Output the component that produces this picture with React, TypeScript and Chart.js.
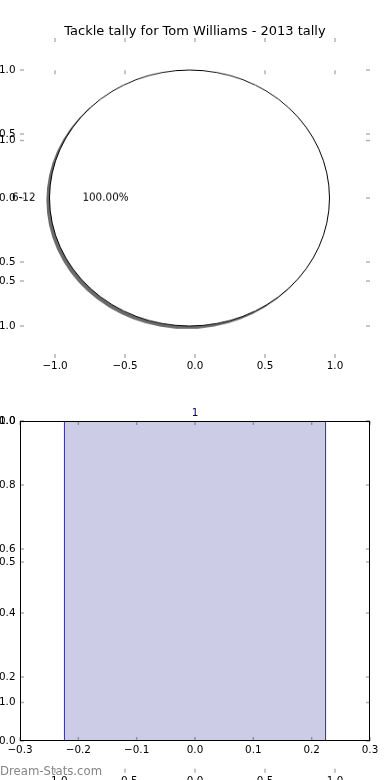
import React, { useEffect, useRef } from "react";
import { Chart, registerables } from "chart.js";

Chart.register(...registerables);
Chart.defaults.font.family = "'DejaVu Sans', 'Liberation Sans', sans-serif";
Chart.defaults.color = "#000";

// Tackles per age band
const categories = ["6-12"];
const tallies = [1];
const barCenters = [0];
const BAR_WIDTH = 0.45;

const TITLE = "Tackle tally for Tom Williams - 2013 tally";
const WATERMARK = "Dream-Stats.com";

// Tick values for each set of axes
const pieTicks = [-1.0, -0.5, 0.0, 0.5, 1.0];
const overlayTicks = [-1.0, -0.5, 0.0, 0.5, 1.0];
const barXTicks = [-0.3, -0.2, -0.1, 0.0, 0.1, 0.2, 0.3];
const barYTicks = [0.0, 0.2, 0.4, 0.6, 0.8, 1.0];

const AXIS_LIMIT = 1.25;
const BAR_X_LIMITS = [-0.3, 0.3];
const BAR_Y_LIMITS = [0, 1];

const TICK_FONT = 10.4;
const TICK_MARK = 4;
const TICK_MARK_COLOR = "rgba(0,0,0,0.3)";

// Pie canvas is drawn square and squeezed vertically by CSS
const PIE_W = 390;
const PIE_ATTR_H = 350;
const PIE_CSS_H = 320;
const PIE_RADIUS_PX = 350 / (2 * AXIS_LIMIT); // one data unit

const fmt = (v: number) => (v < -1e-9 ? "\u2212" : "") + Math.abs(v).toFixed(1);

function linearAxis(min: number, max: number, values: number[], thickness: number, padding: number) {
  return {
    type: "linear",
    min,
    max,
    offset: false,
    bounds: "data",
    grid: { display: false, drawTicks: false, offset: false },
    border: { display: false },
    ticks: {
      autoSkip: false,
      maxRotation: 0,
      minRotation: 0,
      padding,
      font: { size: TICK_FONT },
      color: "#000",
      callback: (v: any) => fmt(Number(v)),
    },
    afterBuildTicks: (scale: any) => {
      scale.ticks = values.map((value) => ({ value }));
    },
    afterFit: (scale: any) => {
      if (scale.isHorizontal()) scale.height = thickness;
      else scale.width = thickness;
      scale.paddingLeft = 0;
      scale.paddingRight = 0;
      scale.paddingTop = 0;
      scale.paddingBottom = 0;
    },
  };
}

// Inward tick marks on all four sides, optional black frame
function axesDecor(id: string, frame: boolean) {
  return {
    id,
    afterDatasetsDraw(chart: any) {
      const { ctx, chartArea: a } = chart;
      ctx.save();
      ctx.strokeStyle = TICK_MARK_COLOR;
      ctx.lineWidth = 1.5;
      Object.values(chart.scales).forEach((s: any) => {
        s.ticks.forEach((_: any, i: number) => {
          const p = s.getPixelForTick(i);
          ctx.beginPath();
          if (s.isHorizontal()) {
            ctx.moveTo(p, a.bottom);
            ctx.lineTo(p, a.bottom - TICK_MARK);
            ctx.moveTo(p, a.top);
            ctx.lineTo(p, a.top + TICK_MARK);
          } else {
            ctx.moveTo(a.left, p);
            ctx.lineTo(a.left + TICK_MARK, p);
            ctx.moveTo(a.right, p);
            ctx.lineTo(a.right - TICK_MARK, p);
          }
          ctx.stroke();
        });
      });
      if (frame) {
        ctx.strokeStyle = "#000";
        ctx.lineWidth = 1;
        const l = Math.round(a.left) + 0.5;
        const t = Math.round(a.top) + 0.5;
        const r = Math.round(a.right) - 0.5;
        const b = Math.round(a.bottom) - 0.5;
        ctx.strokeRect(l, t, r - l, b - t);
      }
      ctx.restore();
    },
  };
}

const baseOptions = {
  animation: false,
  responsive: false,
  devicePixelRatio: 1,
  events: [],
};

function makeOverlay(canvas: HTMLCanvasElement) {
  return new Chart(canvas, {
    type: "scatter",
    data: { datasets: [] },
    options: {
      ...baseOptions,
      layout: { autoPadding: false, padding: { left: 0, top: 70.25, right: 20, bottom: 0 } },
      plugins: { legend: { display: false }, tooltip: { enabled: false } },
      scales: {
        x: linearAxis(-AXIS_LIMIT, AXIS_LIMIT, overlayTicks, 7.25, 2),
        y: linearAxis(-AXIS_LIMIT, AXIS_LIMIT, overlayTicks, 20, 4.5),
      },
    } as any,
    plugins: [
      axesDecor("overlayDecor", false),
      {
        id: "watermark",
        afterDraw(chart: any) {
          const { ctx } = chart;
          ctx.save();
          ctx.font = "11.7px 'DejaVu Sans', sans-serif";
          ctx.fillStyle = "#858585";
          ctx.textAlign = "left";
          ctx.textBaseline = "alphabetic";
          ctx.fillText(WATERMARK, 0, 775);
          ctx.restore();
        },
      },
    ],
  });
}

function makePieAxes(canvas: HTMLCanvasElement) {
  return new Chart(canvas, {
    type: "scatter",
    data: { datasets: [] },
    options: {
      ...baseOptions,
      layout: { autoPadding: false, padding: { left: 0, top: 38, right: 20, bottom: 0 } },
      plugins: { legend: { display: false }, tooltip: { enabled: false } },
      scales: {
        x: linearAxis(-AXIS_LIMIT, AXIS_LIMIT, pieTicks, 22, 2),
        y: linearAxis(-AXIS_LIMIT, AXIS_LIMIT, pieTicks, 20, 4.5),
      },
    } as any,
    plugins: [
      axesDecor("pieAxesDecor", false),
      {
        // figure title, centred on the figure width
        id: "figureTitle",
        afterDraw(chart: any) {
          const { ctx, width } = chart;
          ctx.save();
          ctx.font = "13px 'DejaVu Sans', sans-serif";
          ctx.fillStyle = "#000";
          ctx.textAlign = "center";
          ctx.textBaseline = "alphabetic";
          ctx.fillText(TITLE, width / 2, 34.5);
          ctx.restore();
        },
      },
    ],
  });
}

function makePie(canvas: HTMLCanvasElement) {
  const sy = PIE_ATTR_H / PIE_CSS_H;
  const total = tallies.reduce((s, v) => s + v, 0);
  const label = (ctx: CanvasRenderingContext2D, text: string, x: number, y: number, align: CanvasTextAlign) => {
    ctx.save();
    ctx.translate(x, y);
    ctx.scale(1, sy);
    ctx.font = `${TICK_FONT}px 'DejaVu Sans', sans-serif`;
    ctx.fillStyle = "#000";
    ctx.textAlign = align;
    ctx.textBaseline = "middle";
    ctx.fillText(text, 0, 0);
    ctx.restore();
  };
  const props = (arc: any) =>
    arc.getProps(["x", "y", "startAngle", "endAngle", "outerRadius"]);
  return new Chart(canvas, {
    type: "pie",
    data: {
      labels: categories,
      datasets: [
        {
          data: tallies,
          backgroundColor: "#ffffff",
          borderWidth: 0,
        },
      ],
    },
    options: {
      ...baseOptions,
      rotation: 90,
      radius: PIE_RADIUS_PX,
      layout: { autoPadding: false, padding: { left: 0, top: 0, right: 11, bottom: 0 } },
      plugins: { legend: { display: false }, tooltip: { enabled: false } },
    } as any,
    plugins: [
      {
        id: "pieShadow",
        beforeDatasetsDraw(chart: any) {
          const { ctx } = chart;
          chart.getDatasetMeta(0).data.forEach((arc: any) => {
            const { x, y, startAngle, endAngle, outerRadius } = props(arc);
            const dx = -2.6;
            const dy = 2.6;
            ctx.save();
            ctx.fillStyle = "rgba(70,70,70,0.8)";
            ctx.beginPath();
            ctx.moveTo(x + dx, y + dy);
            ctx.arc(x + dx, y + dy, outerRadius + 0.5, startAngle, endAngle);
            ctx.closePath();
            ctx.fill();
            ctx.restore();
          });
        },
      },
      {
        id: "pieEdgeAndLabels",
        afterDatasetsDraw(chart: any) {
          const { ctx } = chart;
          chart.getDatasetMeta(0).data.forEach((arc: any, i: number) => {
            const { x, y, startAngle, endAngle, outerRadius } = props(arc);
            // outline of the wedge (a full wedge has no radial edges)
            ctx.save();
            ctx.strokeStyle = "#000";
            ctx.lineWidth = 1;
            ctx.beginPath();
            const full = endAngle - startAngle >= Math.PI * 2 - 1e-9;
            if (!full) ctx.moveTo(x, y);
            ctx.arc(x, y, outerRadius, startAngle, endAngle);
            if (!full) ctx.closePath();
            ctx.stroke();
            ctx.restore();

            const mid = (startAngle + endAngle) / 2;
            const c = Math.cos(mid);
            const s = Math.sin(mid);
            const pct = ((tallies[i] / total) * 100).toFixed(2) + "%";
            label(ctx, pct, x + c * outerRadius * 0.6, y + s * outerRadius * 0.6, "center");
            label(ctx, categories[i], x + c * outerRadius * 1.1, y + s * outerRadius * 1.1, c < 0 ? "right" : "left");
          });
        },
      },
    ],
  });
}

function makeBar(canvas: HTMLCanvasElement) {
  const xStep = barXTicks[1] - barXTicks[0];
  return new Chart(canvas, {
    type: "bar",
    data: {
      datasets: [
        {
          data: barCenters.map((x, i) => ({ x, y: tallies[i] })),
          backgroundColor: "rgba(0,0,128,0.2)",
          borderColor: "#000080",
          borderWidth: 1,
          borderSkipped: false,
          categoryPercentage: 1,
          barPercentage: BAR_WIDTH / xStep,
        },
      ],
    },
    options: {
      ...baseOptions,
      layout: { autoPadding: false, padding: { left: 0, top: 26, right: 20, bottom: 0 } },
      plugins: { legend: { display: false }, tooltip: { enabled: false } },
      scales: {
        x: linearAxis(BAR_X_LIMITS[0], BAR_X_LIMITS[1], barXTicks, 39, 3.5),
        y: linearAxis(BAR_Y_LIMITS[0], BAR_Y_LIMITS[1], barYTicks, 20, 4.5),
      },
    } as any,
    plugins: [
      axesDecor("barDecor", true),
      {
        id: "barValues",
        afterDatasetsDraw(chart: any) {
          const { ctx } = chart;
          chart.getDatasetMeta(0).data.forEach((bar: any, i: number) => {
            ctx.save();
            ctx.font = `${TICK_FONT}px 'DejaVu Sans', sans-serif`;
            ctx.fillStyle = "#000080";
            ctx.textAlign = "center";
            ctx.textBaseline = "alphabetic";
            ctx.fillText(String(tallies[i]), bar.x, bar.y - 5);
            ctx.restore();
          });
        },
      },
    ],
  });
}

export default function App() {
  const overlayRef = useRef<HTMLCanvasElement>(null);
  const pieAxesRef = useRef<HTMLCanvasElement>(null);
  const pieRef = useRef<HTMLCanvasElement>(null);
  const barRef = useRef<HTMLCanvasElement>(null);

  useEffect(() => {
    const charts = [
      makeOverlay(overlayRef.current!),
      makePieAxes(pieAxesRef.current!),
      makePie(pieRef.current!),
      makeBar(barRef.current!),
    ];
    return () => charts.forEach((c) => c.destroy());
  }, []);

  const abs = (left: number, top: number, width: number, height: number): React.CSSProperties => ({
    position: "absolute",
    left,
    top,
    width,
    height,
  });

  return (
    <div style={{ ...abs(0, 0, 390, 780), background: "#fff", overflow: "hidden" }}>
      <canvas ref={overlayRef} width={390} height={780} style={abs(0, 0, 390, 780)} />
      <canvas ref={pieAxesRef} width={390} height={380} style={abs(0, 0, 390, 380)} />
      <canvas ref={pieRef} width={PIE_W} height={PIE_ATTR_H} style={abs(0, 38, PIE_W, PIE_CSS_H)} />
      <canvas ref={barRef} width={390} height={385} style={abs(0, 395, 390, 385)} />
    </div>
  );
}
